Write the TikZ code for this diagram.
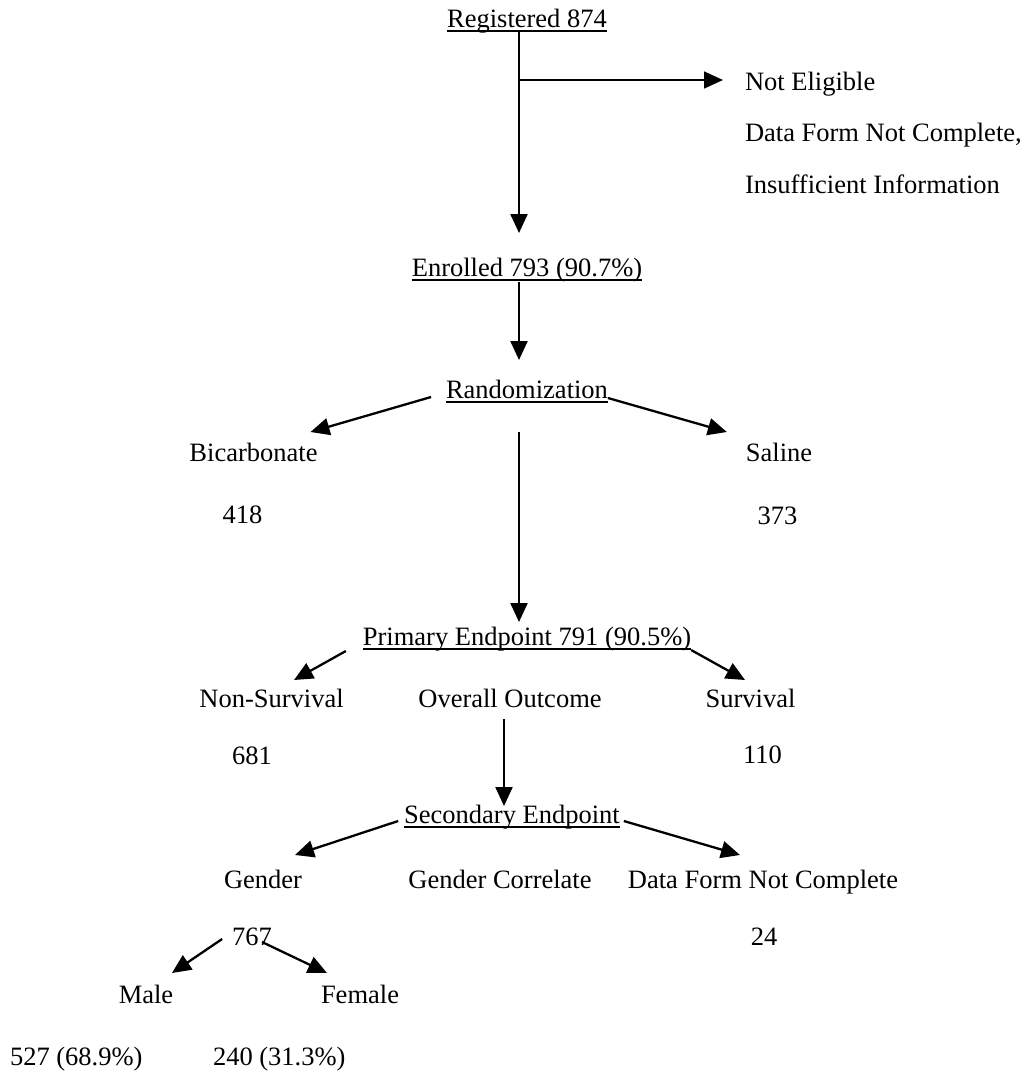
\documentclass[tikz,border=0pt]{standalone}
\usepackage{fontspec}
\setmainfont{Liberation Serif}
\usetikzlibrary{arrows.meta,calc}
\begin{document}
\begin{tikzpicture}[x=1pt,y=-1pt,
  txt/.style={inner sep=0pt,outer sep=0pt,font=\fontsize{26.5}{30}\selectfont},
  arr/.style={line width=2.3pt,-{Triangle[length=19pt,width=17pt]}},
  thinarr/.style={line width=1.6pt,-{Triangle[length=19pt,width=17pt]}},
  uline/.style={line width=1.3pt}]
\useasboundingbox (0,0) rectangle (1027,1074);
% nodes
\node[txt,anchor=base] (reg) at (527,27) {Registered 874};
\node[txt,anchor=base west] (ne) at (745,90) {Not Eligible};
\node[txt,anchor=base west] (dfc) at (745,141) {Data Form Not Complete,};
\node[txt,anchor=base west] (ins) at (745,193) {Insufficient Information};
\node[txt,anchor=base] (enr) at (527,276) {Enrolled 793 (90.7\%)};
\node[txt,anchor=base] (rand) at (527,398) {Randomization};
\node[txt,anchor=base] (bic) at (253.5,461) {Bicarbonate};
\node[txt,anchor=base] (n418) at (242.5,523) {418};
\node[txt,anchor=base] (sal) at (779,461) {Saline};
\node[txt,anchor=base] (n373) at (777.5,524) {373};
\node[txt,anchor=base] (prim) at (527,645) {Primary Endpoint 791 (90.5\%)};
\node[txt,anchor=base] (ns) at (271.5,707) {Non-Survival};
\node[txt,anchor=base] (n681) at (252,764) {681};
\node[txt,anchor=base] (oo) at (510,707) {Overall Outcome};
\node[txt,anchor=base] (surv) at (750.5,707) {Survival};
\node[txt,anchor=base] (n110) at (762.5,763) {110};
\node[txt,anchor=base] (sec) at (512,823) {Secondary Endpoint};
\node[txt,anchor=base] (gen) at (263,888) {Gender};
\node[txt,anchor=base] (gc) at (500,888) {Gender Correlate};
\node[txt,anchor=base] (dfnc) at (763,888) {Data Form Not Complete};
\node[txt,anchor=base] (n767) at (252,945) {767};
\node[txt,anchor=base] (n24) at (764,945) {24};
\node[txt,anchor=base] (male) at (146,1003) {Male};
\node[txt,anchor=base] (female) at (360,1003) {Female};
\node[txt,anchor=base west] (pm) at (10,1065) {527 (68.9\%)};
\node[txt,anchor=base west] (pf) at (213,1065) {240 (31.3\%)};
% underlines
\foreach \n in {reg,enr,rand,prim,sec}
  \draw[uline] ($(\n.base west)+(0,4)$) -- ($(\n.base east)+(0,4)$);
% connectors
\coordinate (br) at ($(reg.base)+(-8,53)$);
\draw[arr] ($(reg.base)+(-8,4)$) -- ($(enr.base)+(-8,-43)$);
\draw[thinarr] (br) -- ($(ne.base west)+(-22,-10)$);
\draw[arr] ($(enr.base)+(-8,6)$) -- ($(rand.base)+(-8,-38)$);
\draw[arr] ($(rand.base west)+(-15,-1)$) -- ($(bic.base)+(57,-29)$);
\draw[arr] ($(rand.base east)+(0,0)$) -- ($(sal.base west)+(-19,-29)$);
\draw[arr] ($(rand.base)+(-8,34)$) -- ($(prim.base)+(-8,-23)$);
\draw[arr] ($(prim.base west)+(-17,6)$) -- ($(ns.base)+(22.5,-27)$);
\draw[arr] ($(prim.base east)+(0,5)$) -- ($(surv.base)+(-5.5,-27)$);
\draw[arr] ($(oo.base)+(-6,12)$) -- ($(sec.base)+(-8,-17)$);
\draw[arr] ($(sec.base west)+(-6,-2)$) -- ($(gen.base)+(32,-33)$);
\draw[arr] ($(sec.base east)+(4,-2)$) -- ($(dfnc.base)+(-23,-33)$);
\draw[arr] ($(n767.base west)+(-10,-6)$) -- ($(male.base)+(26,-30)$);
\draw[arr] ($(n767.base)+(10,-3)$) -- ($(female.base)+(-33,-30)$);
\end{tikzpicture}
\end{document}
